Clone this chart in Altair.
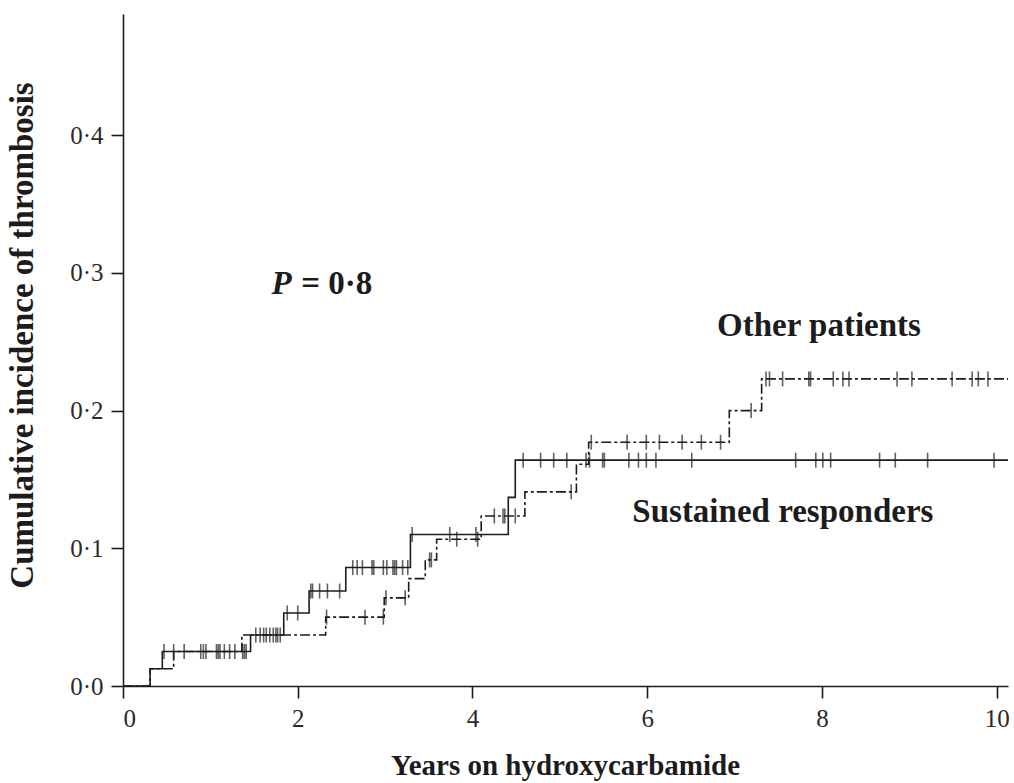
import altair as alt
import numpy as np
import pandas as pd

# Step curves: event times (years) and cumulative incidence after each step
responders_t = [0, 0.31, 0.45, 1.46, 1.84, 2.13, 2.55, 3.29, 4.41, 4.49, 10.13]
responders_cum = [0, 0.0125, 0.025, 0.037, 0.053, 0.069, 0.086, 0.110, 0.137, 0.164, 0.164]

others_t = [0, 0.31, 0.58, 1.36, 2.32, 2.99, 3.27, 3.46, 3.59, 4.10, 4.60, 5.19, 5.33, 6.94, 7.31, 10.13]
others_cum = [0, 0.0125, 0.025, 0.037, 0.050, 0.064, 0.078, 0.0916, 0.1066, 0.1235, 0.141, 0.161, 0.177, 0.200, 0.223, 0.223]

# Censoring times (years)
responders_cens = [0.47, 0.58, 0.70, 0.89, 0.92, 0.95, 1.07, 1.09, 1.11, 1.16, 1.22, 1.28, 1.37, 1.39, 1.41,
                   1.52, 1.57, 1.61, 1.64, 1.68, 1.72, 1.75, 1.77, 1.80,
                   1.88, 2.00,
                   2.15, 2.17, 2.25, 2.34, 2.48,
                   2.63, 2.68, 2.74, 2.85, 2.87, 2.98, 3.02, 3.09, 3.11, 3.13, 3.20, 3.26,
                   3.31, 3.74, 4.04,
                   4.58, 4.78, 4.93, 5.08, 5.30, 5.34, 5.49, 5.51, 5.79, 5.90, 5.99, 6.10, 6.51,
                   7.70, 7.93, 8.01, 8.10, 8.66, 8.84, 9.21, 9.97]
others_cens = [2.33, 2.77, 2.98, 3.01, 3.23, 3.51, 3.53, 3.82, 4.06, 4.25, 4.35, 4.37, 4.49, 5.13,
               5.36, 5.77, 5.99, 6.14, 6.40, 6.62, 6.84, 7.19,
               7.36, 7.40, 7.55, 7.85, 7.87, 8.13, 8.24, 8.31, 8.86, 9.03, 9.49, 9.72, 9.79, 9.90]

x_ticks = [0, 2, 4, 6, 8, 10]
y_ticks = [0.0, 0.1, 0.2, 0.3, 0.4]

INK = "#1c1c1c"
SERIF = "Liberation Serif"


def level_at(times, levels, t):
    idx = np.searchsorted(np.array(times), t, side="right") - 1
    return levels[idx]


resp_df = pd.DataFrame({"t": responders_t, "cum": responders_cum})
oth_df = pd.DataFrame({"t": others_t, "cum": others_cum})
resp_cens = pd.DataFrame({"t": responders_cens,
                          "cum": [level_at(responders_t, responders_cum, t) for t in responders_cens]})
oth_cens = pd.DataFrame({"t": others_cens,
                         "cum": [level_at(others_t, others_cum, t) for t in others_cens]})

x_scale = alt.Scale(domain=[0, 10.13], nice=False, zero=False)
y_scale = alt.Scale(domain=[0, 0.488], nice=False)

x_axis = alt.Axis(values=x_ticks, grid=False, title="Years on hydroxycarbamide",
                  titleX=442, titleY=79, titleBaseline="middle", titleAlign="center",
                  titleFontSize=29, labelExpr="format(datum.value, 'd')")
y_axis = alt.Axis(values=y_ticks, grid=False, title="Cumulative incidence of thrombosis",
                  titleAngle=270, titleX=-101, titleY=321, titleAlign="center",
                  titleBaseline="middle", titleFontSize=33,
                  labelExpr="replace(format(datum.value, '.1f'), '.', '\u00b7')")

X = alt.X("t:Q", scale=x_scale, axis=x_axis)
Y = alt.Y("cum:Q", scale=y_scale, axis=y_axis)

resp_line = alt.Chart(resp_df).mark_line(interpolate="step-after", color=INK, strokeWidth=1.6).encode(x=X, y=Y)
oth_line = alt.Chart(oth_df).mark_line(interpolate="step-after", color=INK, strokeWidth=1.6,
                                        strokeDash=[10, 3, 3, 3]).encode(x=X, y=Y)
resp_ticks = alt.Chart(resp_cens).mark_tick(orient="vertical", size=15, thickness=1.6, color=INK).encode(x=X, y=Y)
oth_ticks = alt.Chart(oth_cens).mark_tick(orient="vertical", size=15, thickness=1.6, color=INK).encode(x=X, y=Y)

# Annotations
notes = pd.DataFrame({
    "t": [1.70, 2.04, 6.80, 5.83],
    "cum": [0.285, 0.285, 0.2545, 0.119],
    "label": ["P", "= 0\u00b78", "Other patients", "Sustained responders"],
    "style": ["italic", "normal", "normal", "normal"],
})
p_text = alt.Chart(notes[notes["style"] == "italic"]).mark_text(
    font=SERIF, fontSize=33, fontWeight="bold", fontStyle="italic", align="left",
    baseline="alphabetic", color=INK).encode(x="t:Q", y="cum:Q", text="label:N")
other_text = alt.Chart(notes[notes["style"] == "normal"]).mark_text(
    font=SERIF, fontSize=33, fontWeight="bold", align="left",
    baseline="alphabetic", color=INK).encode(x="t:Q", y="cum:Q", text="label:N")

chart = alt.layer(resp_line, oth_line, resp_ticks, oth_ticks, p_text, other_text).properties(
    width=885, height=672,
    padding={"left": 123, "top": 14, "right": 6, "bottom": 97},
    autosize=alt.AutoSizeParams(type="none"),
    background="white",
).configure_view(stroke=None).configure_axis(
    domainColor=INK, domainWidth=1.6, tickColor=INK, tickWidth=1.6, tickSize=12,
    labelFont=SERIF, labelFontSize=25, labelColor="#2a2a2a", labelPadding=8,
    titleFont=SERIF, titleFontWeight="bold", titleColor=INK,
)

chart.save("out.html", embed_options={"renderer": "svg", "actions": False})
